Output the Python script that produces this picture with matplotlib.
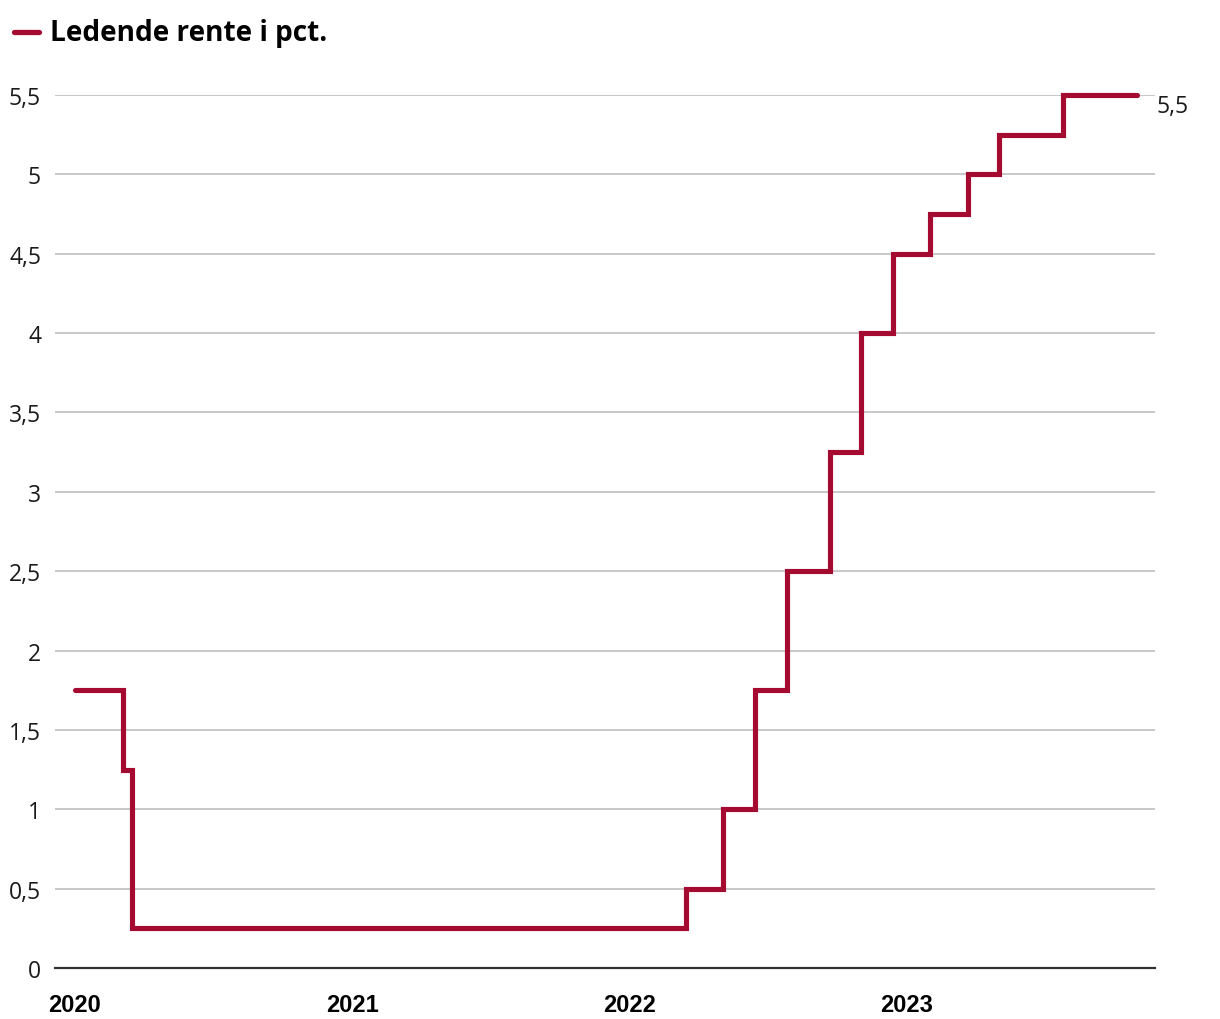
from datetime import date

import matplotlib

matplotlib.use("Agg")
import matplotlib.dates as mdates
from matplotlib import pyplot as plt
from matplotlib.ticker import FuncFormatter

RED = "#a50a30"

# rate decisions: date the new level took effect, and the level
change_dates = [
    date(2020, 1, 1),
    date(2020, 3, 4),
    date(2020, 3, 16),
    date(2022, 3, 17),
    date(2022, 5, 5),
    date(2022, 6, 16),
    date(2022, 7, 28),
    date(2022, 9, 22),
    date(2022, 11, 3),
    date(2022, 12, 15),
    date(2023, 2, 2),
    date(2023, 3, 23),
    date(2023, 5, 4),
    date(2023, 7, 27),
]
rates = [1.75, 1.25, 0.25, 0.5, 1.0, 1.75, 2.5, 3.25, 4.0, 4.5, 4.75, 5.0, 5.25, 5.5]
end_date = date(2023, 11, 1)

y_ticks = [0, 0.5, 1, 1.5, 2, 2.5, 3, 3.5, 4, 4.5, 5, 5.5]
year_ticks = [date(2020, 1, 1), date(2021, 1, 1), date(2022, 1, 1), date(2023, 1, 1)]
title = "Ledende rente i pct."


def comma_fmt(v, _pos=None):
    s = f"{v:g}"
    return s.replace(".", ",")


fig = plt.figure(figsize=(12.2, 10.2), dpi=100)
ax = fig.add_axes([55 / 1220, 51 / 1020, 1100 / 1220, (969 - 96) / 1020])

xs = change_dates + [end_date]
ys = rates + [rates[-1]]
ax.step(xs, ys, where="post", color=RED, linewidth=3.7,
        solid_capstyle="round", solid_joinstyle="miter", clip_on=False, zorder=3)

ax.set_ylim(0, 5.5)
ax.set_xlim(date(2019, 12, 6), date(2023, 11, 25))

ax.set_yticks(y_ticks)
ax.yaxis.set_major_formatter(FuncFormatter(comma_fmt))
ax.set_xticks(year_ticks)
ax.xaxis.set_major_formatter(mdates.DateFormatter("%Y"))

ax.grid(axis="y", color="#c4c4c4", linewidth=1.3, zorder=0)
ax.grid(axis="x", visible=False)
for side in ["top", "right", "left"]:
    ax.spines[side].set_visible(False)
ax.spines["bottom"].set_color("#333333")
ax.spines["bottom"].set_linewidth(1.6)
ax.spines["bottom"].set_zorder(4)

ax.tick_params(axis="y", length=0, pad=10, labelsize=16.5, labelcolor="#1a1a1a")
ax.tick_params(axis="x", length=0, pad=18, labelsize=17)
for lbl in ax.get_yticklabels():
    lbl.set_family(["Open Sans", "DejaVu Sans"])
for lbl in ax.get_xticklabels():
    lbl.set_family(["Liberation Sans", "DejaVu Sans"])
    lbl.set_fontweight("bold")

# end value label
ax.annotate(comma_fmt(rates[-1]), xy=(end_date, rates[-1]), xytext=(14, -8),
            textcoords="offset points", ha="left", va="center",
            fontsize=16.5, family=["Open Sans", "DejaVu Sans"], color="#1a1a1a",
            annotation_clip=False)

# legend header
fig.add_artist(plt.Line2D([14 / 1220, 39 / 1220], [1 - 33 / 1020, 1 - 33 / 1020],
                          color=RED, linewidth=3.8, solid_capstyle="round"))
fig.text(50 / 1220, 1 - 34 / 1020, title, ha="left", va="center",
         fontsize=20.2, fontweight="bold", family=["Open Sans", "DejaVu Sans"])

fig.savefig("out.png", dpi=100, facecolor="white")
